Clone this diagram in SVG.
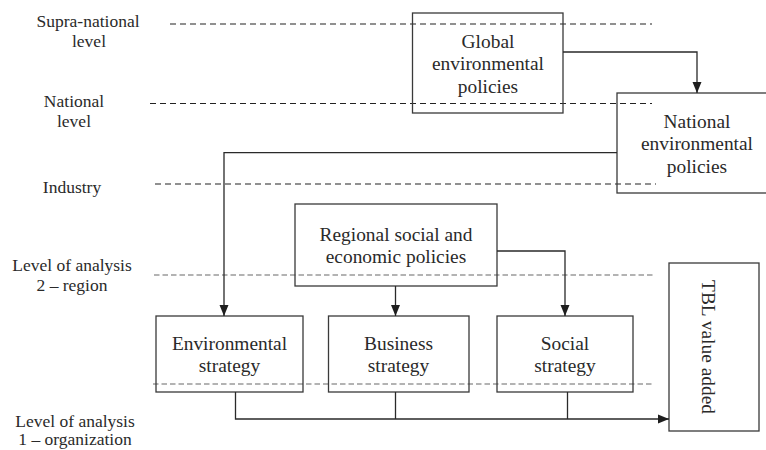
<svg xmlns="http://www.w3.org/2000/svg" width="766" height="450" viewBox="0 0 766 450">
  <style>
    text { font-family: 'Liberation Serif', 'Times New Roman', Times, serif; fill: #2a2a2a; text-anchor: middle; }
    .lbl { font-size: 17.5px; }
    .txt { font-size: 19.4px; }
    .box { fill: none; stroke: #3a3a3a; stroke-width: 1.3; }
    .lvl { fill: none; stroke: #222; stroke-width: 1.2; stroke-dasharray: 6 4; }
    .lvl2 { fill: none; stroke: #9a9a9a; stroke-width: 1.3; stroke-dasharray: 5.5 3; }
    .wire { fill: none; stroke: #2a2a2a; stroke-width: 1.3; }
  </style>
  <defs>
    <marker id="arrow" markerUnits="userSpaceOnUse" markerWidth="12" markerHeight="10" viewBox="0 0 12 10" refX="11" refY="5" orient="auto">
      <path d="M0,0.5 L11,5 L0,9.5 Z" fill="#1e1e1e"/>
    </marker>
  </defs>

  <rect width="766" height="450" fill="#ffffff"/>

  <!-- level labels -->
  <g id="level-labels" font-family="Liberation Serif, serif">
    <text class="lbl" x="88" y="27">Supra-national</text>
    <text class="lbl" x="89" y="47">level</text>
    <text class="lbl" x="74" y="107">National</text>
    <text class="lbl" x="74" y="127">level</text>
    <text class="lbl" x="72" y="193">Industry</text>
    <text class="lbl" x="72" y="271">Level of analysis</text>
    <text class="lbl" x="72" y="291">2 – region</text>
    <text class="lbl" x="75" y="427">Level of analysis</text>
    <text class="lbl" x="75" y="445">1 – organization</text>
  </g>

  <!-- level separators -->
  <g id="level-lines">
    <line class="lvl" x1="170" y1="24" x2="652" y2="24"/>
    <line class="lvl" x1="150" y1="103.5" x2="652" y2="103.5"/>
    <line class="lvl" x1="155" y1="184" x2="656" y2="184"/>
    <line class="lvl2" x1="154" y1="275" x2="655" y2="275"/>
    <line class="lvl2" x1="153" y1="384" x2="653" y2="384"/>
  </g>

  <g id="global-policies">
    <rect class="box" x="412.5" y="13" width="150.5" height="100"/>
    <text class="txt" x="488" y="47.5">Global</text>
    <text class="txt" x="488" y="70">environmental</text>
    <text class="txt" x="488" y="92.5">policies</text>
  </g>

  <g id="national-policies">
    <rect class="box" x="617" y="93" width="150" height="100"/>
    <text class="txt" x="697" y="127.5">National</text>
    <text class="txt" x="697" y="150">environmental</text>
    <text class="txt" x="697" y="172.5">policies</text>
  </g>

  <g id="regional-policies">
    <rect class="box" x="295" y="204" width="202" height="82"/>
    <text class="txt" x="396" y="240.5">Regional social and</text>
    <text class="txt" x="396" y="263">economic policies</text>
  </g>

  <g id="environmental-strategy">
    <rect class="box" x="156" y="316" width="147" height="76"/>
    <text class="txt" x="229.5" y="349.5">Environmental</text>
    <text class="txt" x="229.5" y="372">strategy</text>
  </g>

  <g id="business-strategy">
    <rect class="box" x="328.5" y="316" width="140.5" height="76"/>
    <text class="txt" x="398.5" y="349.5">Business</text>
    <text class="txt" x="398.5" y="372">strategy</text>
  </g>

  <g id="social-strategy">
    <rect class="box" x="497" y="316" width="136" height="76"/>
    <text class="txt" x="565" y="349.5">Social</text>
    <text class="txt" x="565" y="372">strategy</text>
  </g>

  <g id="tbl-value">
    <rect class="box" x="669" y="263" width="90" height="168"/>
    <text class="txt" transform="translate(702,347) rotate(90)">TBL value added</text>
  </g>

  <!-- connectors -->
  <g id="connectors">
    <path class="wire" d="M563,52 H697 V93" marker-end="url(#arrow)"/>
    <path class="wire" d="M617,152.7 H224 V316" marker-end="url(#arrow)"/>
    <path class="wire" d="M395.5,286 V316" marker-end="url(#arrow)"/>
    <path class="wire" d="M497,251 H565 V316" marker-end="url(#arrow)"/>
    <path class="wire" d="M235.5,392 V419 H669" marker-end="url(#arrow)"/>
    <path class="wire" d="M395.5,392 V419"/>
    <path class="wire" d="M567.5,392 V419"/>
  </g>
</svg>
